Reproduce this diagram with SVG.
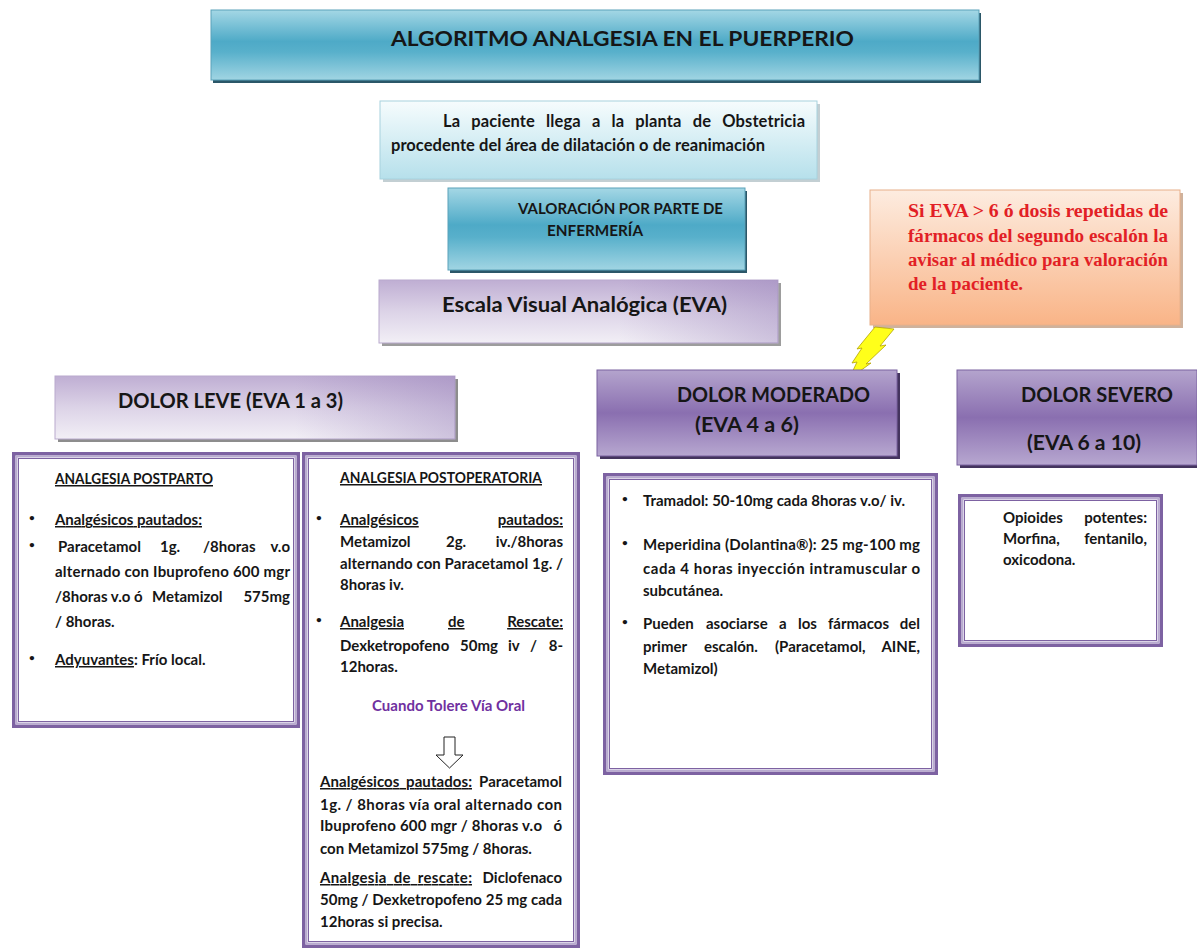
<svg xmlns="http://www.w3.org/2000/svg" width="1197" height="950" viewBox="0 0 1197 950">
<defs>
<linearGradient id="gTeal" x1="0" y1="0" x2="0" y2="1">
<stop offset="0" stop-color="#a4d7e5"/><stop offset="0.45" stop-color="#4eaac7"/><stop offset="0.6" stop-color="#58b0cb"/><stop offset="1" stop-color="#a1d5e3"/>
</linearGradient>
<linearGradient id="gLight" x1="0" y1="0" x2="0" y2="1">
<stop offset="0" stop-color="#f6fcfd"/><stop offset="1" stop-color="#b6e0eb"/>
</linearGradient>
<linearGradient id="gLav" x1="0" y1="0" x2="0" y2="1">
<stop offset="0" stop-color="#bfaed3"/><stop offset="0.5" stop-color="#dcd3e7"/><stop offset="1" stop-color="#f2eff6"/>
</linearGradient>
<linearGradient id="gLavR" x1="0" y1="0" x2="1" y2="0">
<stop offset="0.6" stop-color="#8d74b2" stop-opacity="0"/><stop offset="1" stop-color="#8d74b2" stop-opacity="0.35"/>
</linearGradient>
<linearGradient id="gPurp" x1="0" y1="0" x2="0" y2="1">
<stop offset="0" stop-color="#b4a4cd"/><stop offset="0.5" stop-color="#8a6fb0"/><stop offset="1" stop-color="#b7a7d0"/>
</linearGradient>
<linearGradient id="gOrange" x1="0" y1="0" x2="0" y2="1">
<stop offset="0" stop-color="#fdece0"/><stop offset="1" stop-color="#f9b487"/>
</linearGradient>
</defs>
<style>
text{font-family:Lato,"Open Sans","DejaVu Sans",sans-serif;font-weight:700;fill:#161616}
.b{font-size:15px}
.bl{font-size:10px}
.u{text-decoration:underline}
.e{text-anchor:end}
.h1{font-size:21.5px}
.m{font-size:16.5px}
.v{font-size:15.5px}
.hd{font-size:21.5px}
.red{font-family:"Liberation Serif","DejaVu Serif",serif;font-size:18.5px;fill:#e21f26}
.pur{fill:#7030a0}
.fo{fill:#fff;stroke:#7d62a2;stroke-width:3.5}
.fb{fill:none;stroke:#b9abd0;stroke-width:2}
.fi{fill:none;stroke:#7d62a2;stroke-width:1}
</style>
<rect width="1197" height="950" fill="#fff"/>

<g id="title">
<rect x="213" y="13" width="768" height="70" fill="#2b5768"/>
<rect x="211" y="10" width="768" height="70" fill="url(#gTeal)" stroke="#5aa2b9"/>
<text x="391" y="46" class="h1" textLength="463" lengthAdjust="spacingAndGlyphs">ALGORITMO ANALGESIA EN EL PUERPERIO</text>
</g>

<g id="arrival">
<rect x="383" y="104" width="437" height="78" fill="#c3cfd3"/>
<rect x="380" y="101" width="437" height="78" fill="url(#gLight)" stroke="#a7d2de"/>
<text x="443" y="127" class="m" word-spacing="7" textLength="362" lengthAdjust="spacing">La paciente llega a la planta de Obstetricia</text>
<text x="391" y="151" class="m" textLength="374" lengthAdjust="spacing">procedente del área de dilatación  o de reanimación</text>
</g>

<g id="valoracion">
<rect x="450" y="191" width="297" height="82" fill="#2b5768"/>
<rect x="448" y="188" width="297" height="82" fill="url(#gTeal)" stroke="#5aa2b9"/>
<text x="518" y="214" class="v" textLength="205" lengthAdjust="spacingAndGlyphs">VALORACIÓN POR PARTE DE</text>
<text x="547" y="236" class="v" textLength="96" lengthAdjust="spacingAndGlyphs">ENFERMERÍA</text>
</g>

<g id="escala">
<rect x="382" y="283" width="399" height="63" fill="#9d9d9d"/>
<rect x="379" y="280" width="399" height="63" fill="url(#gLav)" stroke="#b9aacd"/>
<rect x="379" y="280" width="399" height="63" fill="url(#gLavR)"/>
<text x="442" y="312" class="hd" textLength="285" lengthAdjust="spacingAndGlyphs">Escala  Visual Analógica (EVA)</text>
</g>

<g id="aviso">
<rect x="873" y="193" width="310" height="135" fill="#cfb29c"/>
<rect x="870" y="190" width="310" height="135" fill="url(#gOrange)" stroke="#e8b08a"/>
<text x="908" y="217" class="red" textLength="260" lengthAdjust="spacingAndGlyphs">Si  EVA &gt; 6 ó  dosis repetidas de</text>
<text x="908" y="242" class="red" textLength="260" lengthAdjust="spacingAndGlyphs">fármacos del segundo escalón la</text>
<text x="908" y="266" class="red" textLength="260" lengthAdjust="spacingAndGlyphs">avisar al médico para valoración</text>
<text x="908" y="290" class="red" textLength="115" lengthAdjust="spacingAndGlyphs">de la paciente.</text>
</g>

<g id="connectors">
<polygon points="875,327 894,329 880,346 886,345 866,364 871,363 849,379 857,362 852,363 862,348 857,349" fill="#ffff1a" stroke="#b5a300" stroke-width="0.8"/>
</g>

<g id="dolor-leve">
<rect x="58" y="379" width="400" height="63" fill="#8d8d8d"/>
<rect x="55" y="376" width="400" height="63" fill="url(#gLav)" stroke="#b9aacd"/>
<rect x="55" y="376" width="400" height="63" fill="url(#gLavR)"/>
<text x="118" y="408" class="hd" textLength="225" lengthAdjust="spacingAndGlyphs">DOLOR LEVE (EVA 1 a 3)</text>
</g>

<g id="dolor-moderado">
<rect x="600" y="373" width="300" height="86" fill="#44345e"/>
<rect x="597" y="370" width="300" height="86" fill="url(#gPurp)" stroke="#7a62a0"/>
<text x="677" y="402" class="hd" textLength="193" lengthAdjust="spacingAndGlyphs">DOLOR MODERADO</text>
<text x="695" y="432" class="hd" textLength="104" lengthAdjust="spacingAndGlyphs">(EVA 4 a 6)</text>
</g>

<g id="dolor-severo">
<rect x="960" y="373" width="240" height="95" fill="#44345e"/>
<rect x="957" y="370" width="240" height="95" fill="url(#gPurp)" stroke="#7a62a0"/>
<text x="1021" y="402" class="hd" textLength="152" lengthAdjust="spacingAndGlyphs">DOLOR SEVERO</text>
<text x="1027" y="450" class="hd" textLength="114" lengthAdjust="spacingAndGlyphs">(EVA 6 a 10)</text>
</g>

<g id="postparto">
<rect class="fo" x="13.75" y="453.75" width="284.5" height="272.5"/>
<rect class="fb" x="16.5" y="456.5" width="279" height="267"/>
<rect class="fi" x="18.5" y="458.5" width="275" height="263"/>
<text x="55" y="484" class="b u" textLength="158" lengthAdjust="spacingAndGlyphs">ANALGESIA POSTPARTO</text>
<text x="29" y="521" class="bl">•</text>
<text x="55" y="525" class="b u" textLength="147" lengthAdjust="spacing">Analgésicos pautados:</text>
<text x="29" y="548" class="bl">•</text>
<text x="58" y="552" class="b">Paracetamol</text>
<text x="160" y="552" class="b">1g.</text>
<text x="203" y="552" class="b">/8horas</text>
<text x="290" y="552" class="b e">v.o</text>
<text x="55" y="577" class="b" textLength="235" lengthAdjust="spacing">alternado con Ibuprofeno 600 mgr</text>
<text x="55" y="602" class="b">/8horas v.o ó</text>
<text x="152" y="602" class="b">Metamizol</text>
<text x="290" y="602" class="b e">575mg</text>
<text x="55" y="627" class="b">/ 8horas.</text>
<text x="29" y="661" class="bl">•</text>
<text x="55" y="665" class="b"><tspan class="u">Adyuvantes</tspan>: Frío local.</text>
</g>

<g id="postoperatoria">
<rect class="fo" x="303.75" y="453.75" width="274.5" height="492.5"/>
<rect class="fb" x="306.5" y="456.5" width="269" height="487"/>
<rect class="fi" x="308.5" y="458.5" width="265" height="483"/>
<text x="340" y="483" class="b u" textLength="202" lengthAdjust="spacingAndGlyphs">ANALGESIA POSTOPERATORIA</text>
<text x="316" y="521" class="bl">•</text>
<text x="340" y="525" class="b u">Analgésicos</text>
<text x="563" y="525" class="b u e">pautados:</text>
<text x="340" y="547" class="b">Metamizol</text>
<text x="446" y="547" class="b">2g.</text>
<text x="563" y="547" class="b e">iv./8horas</text>
<text x="340" y="569" class="b" textLength="223" lengthAdjust="spacing">alternando con Paracetamol 1g. /</text>
<text x="340" y="590" class="b">8horas iv.</text>
<text x="316" y="623" class="bl">•</text>
<text x="340" y="627" class="b u">Analgesia</text>
<text x="448" y="627" class="b u">de</text>
<text x="563" y="627" class="b u e">Rescate:</text>
<text x="340" y="651" class="b">Dexketropofeno</text>
<text x="460" y="651" class="b">50mg</text>
<text x="508" y="651" class="b">iv</text>
<text x="530" y="651" class="b">/</text>
<text x="563" y="651" class="b e">8-</text>
<text x="340" y="672" class="b">12horas.</text>
<text x="372" y="711" class="b pur" textLength="153" lengthAdjust="spacing">Cuando Tolere Vía Oral</text>
<path d="M444,737 H455 V755 H463 L449.5,768 L436,755 H444 Z" fill="#fff" stroke="#222" stroke-width="1"/>
<text x="320" y="787" class="b u" word-spacing="3" textLength="152" lengthAdjust="spacing">Analgésicos pautados:</text>
<text x="562" y="787" class="b e">Paracetamol</text>
<text x="320" y="810" class="b" textLength="242" lengthAdjust="spacing">1g. / 8horas vía oral alternado con</text>
<text x="320" y="831" class="b" textLength="222" lengthAdjust="spacing">Ibuprofeno 600 mgr / 8horas v.o</text>
<text x="562" y="831" class="b e">ó</text>
<text x="320" y="854" class="b">con Metamizol 575mg / 8horas.</text>
<text x="320" y="883" class="b u" word-spacing="3" textLength="152" lengthAdjust="spacing">Analgesia de rescate:</text>
<text x="562" y="883" class="b e">Diclofenaco</text>
<text x="320" y="905" class="b" textLength="242" lengthAdjust="spacing">50mg / Dexketropofeno  25 mg cada</text>
<text x="320" y="927" class="b">12horas si precisa.</text>
</g>

<g id="moderado-tratamiento">
<rect class="fo" x="604.75" y="474.75" width="331.5" height="298.5"/>
<rect class="fb" x="607.5" y="477.5" width="326" height="293"/>
<rect class="fi" x="609.5" y="479.5" width="322" height="289"/>
<text x="622" y="502" class="bl">•</text>
<text x="643" y="506" class="b" textLength="262" lengthAdjust="spacing">Tramadol: 50-10mg cada 8horas v.o/ iv.</text>
<text x="622" y="546" class="bl">•</text>
<text x="643" y="550" class="b" textLength="277" lengthAdjust="spacing">Meperidina (Dolantina®): 25 mg-100 mg</text>
<text x="643" y="574" class="b" textLength="277" lengthAdjust="spacing">cada 4 horas inyección intramuscular o</text>
<text x="643" y="596" class="b">subcutánea.</text>
<text x="622" y="625" class="bl">•</text>
<text x="643" y="629" class="b">Pueden</text>
<text x="706" y="629" class="b">asociarse</text>
<text x="779" y="629" class="b">a</text>
<text x="798" y="629" class="b">los</text>
<text x="828" y="629" class="b">fármacos</text>
<text x="920" y="629" class="b e">del</text>
<text x="643" y="652" class="b">primer</text>
<text x="704" y="652" class="b">escalón.</text>
<text x="775" y="652" class="b">(Paracetamol,</text>
<text x="920" y="652" class="b e">AINE,</text>
<text x="643" y="674" class="b">Metamizol)</text>
</g>

<g id="severo-tratamiento">
<rect class="fo" x="959.75" y="495.75" width="201.5" height="149.5"/>
<rect class="fb" x="962.5" y="498.5" width="196" height="144"/>
<rect class="fi" x="964.5" y="500.5" width="192" height="140"/>
<text x="1003" y="523" class="b">Opioides</text>
<text x="1147" y="523" class="b e">potentes:</text>
<text x="1003" y="544" class="b">Morfina,</text>
<text x="1147" y="544" class="b e">fentanilo,</text>
<text x="1003" y="565" class="b">oxicodona.</text>
</g>
</svg>
